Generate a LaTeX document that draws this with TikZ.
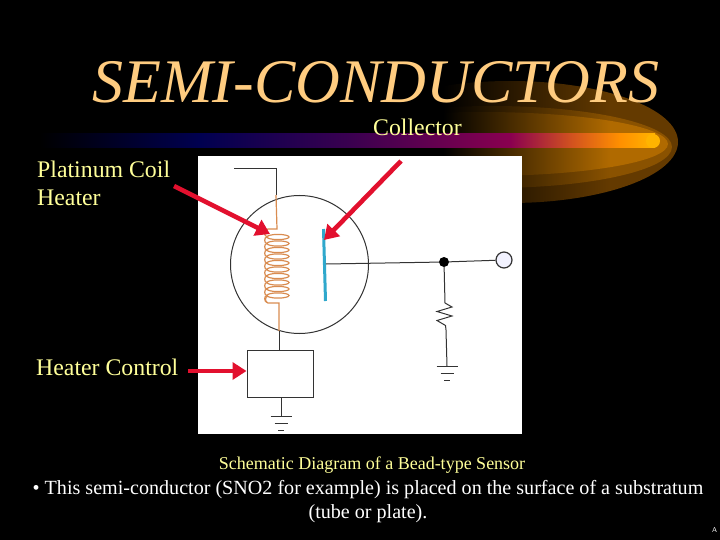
\documentclass[tikz,border=0pt]{standalone}
\usepackage{fontspec}
\setmainfont{Liberation Serif}
\usetikzlibrary{arrows.meta,positioning}
\definecolor{titlecol}{HTML}{FFCC80}
\definecolor{labelcol}{HTML}{FFFF99}
\definecolor{arrowcol}{HTML}{E2102E}
\definecolor{coilcol}{HTML}{D98C50}
\definecolor{platecol}{HTML}{2FA8CC}
\tikzstyle{title} = [text=titlecol, font=\fontsize{62}{62}\selectfont\itshape, inner sep=0pt]
\tikzstyle{label} = [text=labelcol, font=\fontsize{23.8}{28}\selectfont, inner sep=0pt, align=left]
\tikzstyle{caption} = [text=labelcol, font=\fontsize{18}{20}\selectfont, inner sep=0pt]
\tikzstyle{body} = [text=white, font=\fontsize{20.1}{24}\selectfont, inner sep=0pt, align=center]
\tikzstyle{wire} = [draw=black!80, line width=1pt]
\tikzstyle{coilwire} = [draw=coilcol, line width=1.2pt]
\tikzstyle{arrow} = [draw=arrowcol, line width=4.6pt, -{Triangle[length=14pt,width=17pt]}]

\begin{document}
\begin{tikzpicture}[x=1pt,y=-1pt]
            \useasboundingbox (0,0) rectangle (720,540);
            \fill [black] (0,0) rectangle (720,540);

            % glow behind the bar
            \foreach \cx/\cy/\rx/\ry/\col in {510/142/168/61/643A00, 492/147/180/41/8A5200, 482/144/186/32/B06A00} {
                \definecolor{glow}{HTML}{\col}
                \begin{scope}
                    \clip (\cx,\cy) ellipse [x radius=\rx pt, y radius=\ry pt];
                    \shade [left color=black, right color=glow] (443,70) rectangle (610,210);
                    \fill [glow] (610,70) rectangle (680,210);
                \end{scope}
            }

            % the bar
            \foreach \xa/\xb/\ca/\cb in {40/200/000000/000050, 200/350/000050/3A0050, 350/510/3A0050/8A0050, 510/570/8A0050/D05020, 570/620/D05020/FF9000, 620/655/FF9000/FFB400} {
                \definecolor{ca}{HTML}{\ca}
                \definecolor{cb}{HTML}{\cb}
                \shade [left color=ca, right color=cb] (\xa,134) rectangle (\xb,148);
            }
            \fill [color={rgb,255:red,255;green,180;blue,0}] (653,141) circle (7pt);

            \fill [white] (198,156) rectangle (522,434);

            \node (heading) [title] at (376,82) {SEMI-CONDUCTORS};
            \node (collector) [label] at (417.5,127) {Collector};
            \node (platinum) [label, anchor=north west] at (37,161) {Platinum Coil\\Heater};
            \node (control) [label, anchor=west] at (36,367.5) {Heater Control};
            \node (schematic) [caption] at (372,465) {Schematic Diagram of a Bead-type Sensor};
            \node (note) [body] at (368,502) {• This semi-conductor (SNO2 for example) is placed on the surface of a substratum\\(tube or plate).};
            \node (mark) [text=white, font=\fontsize{7}{7}\selectfont\sffamily, inner sep=0pt] at (714.5,530) {A};

            % sensor
            \node (bulb) [circle, wire, minimum size=138pt, inner sep=0pt] at (299.5,264.5) {};
            \node (ctrlbox) [rectangle, wire, minimum width=66pt, minimum height=47pt, inner sep=0pt] at (280,373.5) {};
            \node (dot) [circle, fill=black, minimum size=10pt, inner sep=0pt] at (444,262) {};
            \node (output) [circle, draw=black!80, fill=blue!5, line width=1.2pt, minimum size=16pt, inner sep=0pt] at (504,260) {};

            \coordinate (wirestart) at (234,169);
            \coordinate (wirecorner) at (276,169);
            \coordinate (wireentry) at (276,195);
            \coordinate (coiltop) at (277,229);
            \coordinate (coilbottom) at (279,303);
            \coordinate (bulbexit) at (279,331);
            \coordinate (platetop) at (323.5,229);
            \coordinate (platemid) at (326,264);
            \coordinate (platebottom) at (325.5,301);
            \coordinate (restop) at (445,303);
            \coordinate (resbottom) at (446,330);
            \coordinate (gndone) at (281,416);
            \coordinate (gndtwo) at (447,366);

            \draw [wire] (wirestart) -- (wirecorner) -- (wireentry);
            \draw [coilwire] (wireentry) -- (coiltop) -- (268,229) to [out=180,in=180,looseness=1.5] (268,237);
            \foreach \i in {0,...,9} {
                \draw [coilwire] (278,237+\i*6.5) ellipse [x radius=11pt, y radius=2.6pt];
                \draw [coilwire] (267,237+\i*6.5) to [out=180,in=180,looseness=1.2] (267,243.5+\i*6.5);
            }
            \draw [coilwire] (268,296) to [out=180,in=180,looseness=1.2] (268,303) -- (coilbottom) -- (bulbexit);
            \draw [wire] (bulbexit) -- (ctrlbox.north -| bulbexit);
            \draw [draw=platecol, line width=3pt] (platetop) -- (platebottom);
            \draw [wire] (platemid) -- (dot);
            \draw [wire] (dot) -- (output);
            \draw [wire] (dot) -- (restop) -- ++(7,4) -- ++(-15,4.5) -- ++(15,4.5) -- ++(-15,4.5) -- ++(8.5,5) -- (resbottom) -- (gndtwo);
            \draw [wire] (ctrlbox.south -| gndone) -- (gndone);
            \foreach \g in {gndone,gndtwo} {
                \draw [wire] ([xshift=-10.5pt]\g) -- ([xshift=10.5pt]\g);
                \draw [wire] ([xshift=-6.5pt,yshift=-7pt]\g) -- ([xshift=6.5pt,yshift=-7pt]\g);
                \draw [wire, line width=1.6pt] ([xshift=-3pt,yshift=-14.5pt]\g) -- ([xshift=3pt,yshift=-14.5pt]\g);
            }

            % pointers
            \coordinate (coilstart) at (174,186);
            \coordinate (coiltip) at (270,234);
            \coordinate (platestart) at (401,161);
            \coordinate (platetip) at (324,240);
            \coordinate (ctrlstart) at (188,371);
            \draw [arrow] (coilstart) -- (coiltip);
            \draw [arrow] (platestart) -- (platetip);
            \draw [arrow] (ctrlstart) -- (ctrlbox.west |- ctrlstart);
        \end{tikzpicture}
\end{document}
